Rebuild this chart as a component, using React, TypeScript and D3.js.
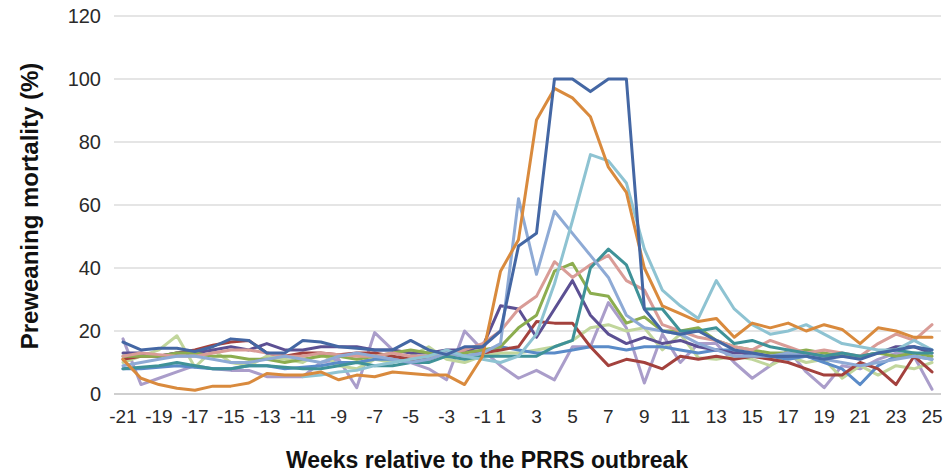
import React from 'react';
import * as d3 from 'd3';

// weeks relative to the outbreak (there is no week 0)
const weeks: number[] = [
  -21, -20, -19, -18, -17, -16, -15, -14, -13, -12, -11, -10, -9, -8, -7, -6, -5, -4, -3, -2, -1,
  1, 2, 3, 4, 5, 6, 7, 8, 9, 10, 11, 12, 13, 14, 15, 16, 17, 18, 19, 20, 21, 22, 23, 24, 25,
];

const yTicks: number[] = [0, 20, 40, 60, 80, 100, 120];
const xTickWeeks: number[] = weeks.filter((w) => Math.abs(w) % 2 === 1);

type V = number | null;

const farmDarkBlue: V[] = [
  16.5, 14, 14.5, 14.5, 13.5, 15, 17.5, 17, 13, 13, 17, 16.5, 15, 14.5, 14, 14, 17, 14, 12.5, 15, 15,
  20, 47, 51, 100, 100, 96, 100, 100, 27, 20, 19, 20, 17, 14, 13, 12, 12, 12, 11, 12, 11, 13, 14, 15, 14,
];
const farmOrange: V[] = [
  11, 5, 3, 1.8, 1.2, 2.5, 2.5, 3.5, 6.5, 6, 6, 7, 4.5, 6, 5.5, 7, 6.5, 6, 6, 3, 12,
  39, 49, 87, 97, 94, 88, 72, 64, 40, 28, 25.5, 23, 24, 18, 22.5, 21, 22.5, 20, 22, 20.5, 16, 21, 20, 18, 18,
];
const farmLightBlue: V[] = [
  null, null, null, null, null, null, null, null, null, null, 5.5, 6, 7, 7.5, 9, 10, 11, 12, 14, 12, 11,
  10, 12, 19, 35, 55, 76, 74, 67, 46, 33, 28, 24, 36, 27, 22, 19, 20, 22, 19, 16, 15, 14, 14, 17, 14,
];
const farmPeriwinkle: V[] = [
  9, 10, 11, 12, 12, 11, 10, 10, 11, 12, 11, 10, 12, 13, 12, 11, 10, 11, 13, 12, 13,
  16, 62, 38, 58, 51, 44, 37, 25, 21, 20, 19, 16, 14, 12, 12, 12, 13, 12, 11, 10, 9, 10, 11, 12, 11,
];
const farmTeal: V[] = [
  8, 8.5, 9, 10, 9, 8, 8, 9, 9, 8.5, 8, 8, 9, 10, 9, 9, 10, 10, 12, 11, 12,
  12, 12, 12, 15, 17, 40, 46, 41, 27, 27, 20, 20, 21, 16, 17, 15, 14, 13, 12, 13, 12, 13, 14, 13, 13,
];
const farmPink: V[] = [
  12, 13, 12.5, 12, 12, 13, 14, 14, 13, 12, 12, 13, 12.5, 12, 12, 13, 12, 12, 13, 14, 16,
  20, 27, 31, 42, 37, 41, 44, 36, 33, 22, 20, 18, 17, 15, 14, 17, 15, 13, 14, 13, 12, 16, 19, 17, 22,
];
const farmGreen: V[] = [
  12, 12, 12, 13, 13, 12, 12, 11, 11, 10, 11, 12, 12, 11, 12, 13, 14, 13, 12, 13, 14,
  15, 21, 25, 39, 41.5, 32, 31, 22.5, 24.5, 20, 20, 21, 17, 15, 14, 13, 13, 14, 13, 12, 12, 13, 12, 13, 12,
];
const farmPurple: V[] = [
  13, 13, 12, 13, 13, 14, 15, 14, 16, 14, 14, 15, 15, 15, 14, 14, 13, 13, 14, 14, 15,
  28, 27, 18, 27, 36, 25, 19, 16, 18, 16, 17, 15, 14, 13, 13, 12, 12, 13, 12, 12, 12, 13, 15, 15, 13,
];
const farmRed: V[] = [
  11, 12, 12, 13, 14, 15.5, 16.5, 17, 13, 12, 13, 13, 12.5, 13, 13, 12, 11, 11, 13, 14, 13,
  14, 15, 23, 22.5, 22.5, 15, 9, 11, 10, 8, 12, 11, 12, 11, 12, 11, 10, 8, 6, 6, 10, 8, 3, 12, 7,
];
const farmLightGreen: V[] = [
  10, 12, 14, 18.5, 8.5, 14, 10, 9, 12, 11, 10, 13, 9, 8, 11, 10, 12, 15, 11, 10, 12,
  13, 13, 14, 15, 17, 21, 22, 20, 21, 14, 19, 11.5, 11, 12, 11, 9, 12, 10, 11, 5, 9, 6, 9, 8, 10,
];
const farmLavender: V[] = [
  17.5, 3, 5, 7, 9, 8, 7.5, 7.5, 5.5, 5.5, 5.5, 10, 11, 2, 19.5, 14, 10, 8, 4.5, 20, 14,
  9, 5, 7.5, 4.5, 15, 15, 29, 21, 3.5, 19, 10, 16, 16, 10, 5, 9, 14, 7, 2, 9, 8, 11, 13, 12, 1.5,
];
const farmMidBlue: V[] = [
  8, 8, 8.5, 9, 8.5, 8, 8, 9, 9, 8, 8.5, 9, 10, 10, 11, 11, 10, 12, 13, 12, 13,
  15, 14, 13, 13, 14, 15, 15, 14, 15, 15, 14, 13, 14, 14, 12, 12, 11, 12, 10, 8, 3, 9, 12, 12, 11,
];

const series: { values: V[]; color: string }[] = [
  { values: farmLavender, color: '#aa9dca' },
  { values: farmLightGreen, color: '#c1d69c' },
  { values: farmMidBlue, color: '#5a8bc8' },
  { values: farmRed, color: '#a3413d' },
  { values: farmPurple, color: '#5c5093' },
  { values: farmGreen, color: '#8cad4f' },
  { values: farmPink, color: '#d99c97' },
  { values: farmTeal, color: '#3f9298' },
  { values: farmPeriwinkle, color: '#8eaad5' },
  { values: farmLightBlue, color: '#8ec3d2' },
  { values: farmOrange, color: '#d98a3d' },
  { values: farmDarkBlue, color: '#4467a4' },
];

const width = 950;
const height = 476;
const font = '"Liberation Sans", Arial, Helvetica, sans-serif';

const App: React.FC = () => {
  const x = d3
    .scaleBand<number>()
    .domain(weeks)
    .range([114, 941]);
  const cx = (w: number) => (x(w) as number) + x.bandwidth() / 2;

  const y = d3.scaleLinear().domain([0, 120]).range([394, 16]);

  const line = d3
    .line<V>()
    .defined((d) => d != null)
    .x((_, i) => cx(weeks[i]))
    .y((d) => y(d as number));

  return (
    <svg
      width={width}
      height={height}
      style={{ position: 'absolute', left: 0, top: 0, background: '#fff' }}
    >
      {/* grid */}
      {yTicks.map((t) => (
        <line
          key={t}
          x1={114}
          x2={941}
          y1={y(t)}
          y2={y(t)}
          stroke={t === 0 ? '#bfbfbf' : '#dcdcdc'}
          strokeWidth={1.5}
        />
      ))}

      {/* y tick labels */}
      {yTicks.map((t) => (
        <text
          key={t}
          x={101}
          y={y(t)}
          dy="0.35em"
          textAnchor="end"
          fontFamily={font}
          fontSize={20}
          fill="#2a2a2a"
        >
          {t}
        </text>
      ))}

      {/* x tick labels */}
      {xTickWeeks.map((w) => (
        <text
          key={w}
          x={cx(w)}
          y={423}
          textAnchor="middle"
          fontFamily={font}
          fontSize={19}
          fill="#2a2a2a"
        >
          {w}
        </text>
      ))}

      {/* lines */}
      {series.map((s, i) => (
        <path
          key={i}
          d={line(s.values) || ''}
          fill="none"
          stroke={s.color}
          strokeWidth={3}
          strokeLinejoin="round"
          strokeLinecap="round"
        />
      ))}

      {/* axis titles */}
      <text
        x={487}
        y={468}
        textAnchor="middle"
        fontFamily={font}
        fontWeight="bold"
        fontSize={23}
        fill="#111"
      >
        Weeks relative to the PRRS outbreak
      </text>
      <text
        transform="translate(38,206) rotate(-90)"
        textAnchor="middle"
        fontFamily={font}
        fontWeight="bold"
        fontSize={24}
        fill="#111"
      >
        Preweaning mortality (%)
      </text>
    </svg>
  );
};

export default App;
